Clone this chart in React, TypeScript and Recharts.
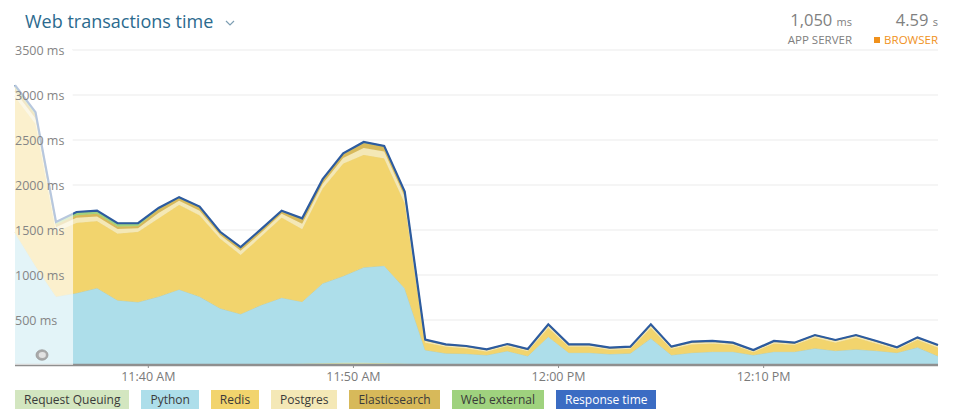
import React from 'react';
import { ComposedChart, Area, Line, XAxis, YAxis, CartesianGrid, ReferenceArea } from 'recharts';

// minutes after 11:00
const minutes = [
  33.5, 34.5, 35.5, 36.5, 37.5, 38.5, 39.5, 40.5, 41.5, 42.5, 43.5, 44.5, 45.5, 46.5, 47.5, 48.5,
  49.5, 50.5, 51.5, 52.5, 53.5, 54.5, 55.5, 56.5, 57.5, 58.5, 59.5, 60.5, 61.5, 62.5, 63.5, 64.5,
  65.5, 66.5, 67.5, 68.5, 69.5, 70.5, 71.5, 72.5, 73.5, 74.5, 75.5, 76.5, 77.5, 78.5,
];

const requestQueuing = [
  8, 8, 8, 8, 8, 8, 8, 8, 8, 8, 8, 8, 8, 8, 15, 20, 25, 25, 20, 15,
  5, 5, 5, 5, 5, 5, 5, 5, 5, 5, 5, 5, 5, 5, 5, 5, 5, 5, 5, 5, 5, 5, 5, 5, 5, 5,
];
const python = [
  1462, 1092, 752, 792, 847, 712, 692, 752, 832, 752, 622, 559, 659, 740, 689, 887, 964, 1060, 1084, 837,
  162, 125, 121, 106, 151, 95, 310, 132, 132, 117, 125, 291, 106, 132, 143, 143, 106, 143, 143, 180,
  154, 169, 154, 132, 191, 95,
];
const redis = [
  1510, 1580, 720, 780, 745, 740, 780, 870, 940, 905, 775, 658, 763, 892, 806, 1058, 1251, 1250, 1192, 948,
  83, 75, 59, 39, 54, 55, 100, 68, 68, 48, 50, 119, 69, 93, 92, 77, 34, 92, 77, 120,
  91, 131, 81, 38, 84, 95,
];
const postgres = [
  60, 60, 50, 55, 50, 50, 40, 60, 45, 50, 40, 45, 40, 40, 60, 50, 60, 75, 75, 70,
  18, 14, 15, 13, 12, 12, 22, 14, 14, 12, 13, 22, 13, 18, 16, 12, 11, 16, 12, 17,
  17, 17, 16, 10, 16, 16,
];
const elasticsearch = [
  40, 40, 30, 30, 30, 30, 25, 40, 30, 35, 25, 30, 30, 25, 50, 40, 42, 58, 54, 46,
  10, 8, 8, 8, 8, 8, 12, 8, 8, 8, 8, 12, 8, 8, 8, 8, 8, 8, 8, 8,
  8, 8, 8, 8, 8, 8,
];
const webExternal = [
  30, 30, 30, 35, 35, 35, 30, 15, 10, 10, 10, 10, 10, 10, 10, 10, 10, 10, 10, 10,
  4, 3, 3, 3, 3, 3, 3, 3, 3, 3, 3, 3, 3, 3, 3, 3, 3, 3, 3, 3,
  3, 3, 3, 3, 3, 3,
];
const responseTime = [
  3110, 2810, 1590, 1700, 1715, 1575, 1575, 1745, 1865, 1760, 1480, 1310, 1510, 1715, 1630, 2065, 2352, 2478, 2435, 1926,
  282, 230, 211, 174, 233, 178, 452, 230, 230, 193, 204, 452, 204, 259, 267, 248, 167, 267, 248, 333,
  278, 333, 267, 196, 307, 222,
];

const yTicks = [500, 1000, 1500, 2000, 2500, 3000, 3500];
const xTicks = [40, 50, 60, 70];
const xTickLabels = ['11:40 AM', '11:50 AM', '12:00 PM', '12:10 PM'];
const legendNames = ['Request Queuing', 'Python', 'Redis', 'Postgres', 'Elasticsearch', 'Web external', 'Response time'];

const FONT = "'Open Sans', sans-serif";

const COLORS: Record<string, string> = {
  'Request Queuing': '#d3e6c0',
  Python: '#addeea',
  Redis: '#f2d46d',
  Postgres: '#f4e8b6',
  Elasticsearch: '#d7b95a',
  'Web external': '#9fd27e',
  'Response time': '#3b6cc3',
};

const data = minutes.map((m, i) => ({
  t: m,
  rq: requestQueuing[i],
  python: python[i],
  redis: redis[i],
  postgres: postgres[i],
  es: elasticsearch[i],
  web: webExternal[i],
  resp: responseTime[i],
}));

const renderYTick = (props: any) => {
  const { y, payload } = props;
  return (
    <text key={`y-${payload.value}`} x={15} y={y} dy={4.5} fill="#858585" fontSize={12.5} fontFamily={FONT} textAnchor="start">
      {payload.value} ms
    </text>
  );
};

const formatX = (v: number) => xTickLabels[xTicks.indexOf(v)] ?? '';

export default function App() {
  return (
    <div style={{ position: 'absolute', left: 0, top: 0, width: 958, height: 415, background: '#fff', fontFamily: FONT }}>
      {/* header */}
      <div style={{ position: 'absolute', left: 25, top: 9, fontSize: 18, color: '#2b6a8e', whiteSpace: 'nowrap' }}>
        Web transactions time
      </div>
      <svg style={{ position: 'absolute', left: 225, top: 19 }} width={10} height={8}>
        <polyline points="1,2 5,6 9,2" fill="none" stroke="#7e9fb3" strokeWidth={1.2} />
      </svg>
      <div style={{ position: 'absolute', right: 106, top: 10, textAlign: 'right', color: '#808080', whiteSpace: 'nowrap' }}>
        <div style={{ fontSize: 16.5, lineHeight: '20px' }}>
          1,050 <span style={{ fontSize: 11 }}>ms</span>
        </div>
        <div style={{ fontSize: 11.5, lineHeight: '16px' }}>APP SERVER</div>
      </div>
      <div style={{ position: 'absolute', right: 20, top: 10, textAlign: 'right', color: '#808080', whiteSpace: 'nowrap' }}>
        <div style={{ fontSize: 16.5, lineHeight: '20px' }}>
          4.59 <span style={{ fontSize: 11 }}>s</span>
        </div>
        <div style={{ fontSize: 11.5, lineHeight: '16px', color: '#f0911c' }}>
          <span style={{ display: 'inline-block', width: 6, height: 6, background: '#f0911c', marginRight: 4, verticalAlign: 1 }} />
          BROWSER
        </div>
      </div>

      <div style={{ position: 'absolute', left: 0, top: 0 }}>
        <ComposedChart width={958} height={395} data={data} margin={{ top: 50, right: 20, bottom: 0, left: 15 }}>
          <CartesianGrid
            vertical={false}
            horizontal={(p: any) => (
              <line key={`g-${p.index}`} x1={72} y1={p.y1} x2={p.x2} y2={p.y2} stroke="#ebebeb" strokeWidth={1} />
            )}
          />
          <XAxis
            dataKey="t"
            type="number"
            domain={[33.5, 78.5]}
            ticks={xTicks}
            tickFormatter={formatX}
            height={30}
            axisLine={{ stroke: '#8f8f8f', strokeWidth: 2.5 }}
            tickLine={{ stroke: '#8f8f8f' }}
            tickSize={3}
            tickMargin={4}
            tick={{ fill: '#7a7a7a', fontSize: 12.5, fontFamily: FONT }}
          />
          <YAxis
            mirror
            width={60}
            domain={[0, 3500]}
            ticks={yTicks}
            interval={0}
            axisLine={false}
            tickLine={false}
            tick={renderYTick}
          />
          <Area type="linear" dataKey="rq" stackId="1" fill="#d9e7b8" stroke="#d6e2a8" fillOpacity={1} isAnimationActive={false} />
          <Area type="linear" dataKey="python" stackId="1" fill={COLORS.Python} stroke="#bccfae" fillOpacity={1} isAnimationActive={false} />
          <Area type="linear" dataKey="redis" stackId="1" fill={COLORS.Redis} stroke="#eed680" fillOpacity={1} isAnimationActive={false} />
          <Area type="linear" dataKey="postgres" stackId="1" fill={COLORS.Postgres} stroke="#f4e8b6" fillOpacity={1} isAnimationActive={false} />
          <Area type="linear" dataKey="es" stackId="1" fill={COLORS.Elasticsearch} stroke="#d7b95a" fillOpacity={1} isAnimationActive={false} />
          <Area type="linear" dataKey="web" stackId="1" fill={COLORS['Web external']} stroke="#9fd27e" fillOpacity={1} isAnimationActive={false} />
          <Line type="linear" dataKey="resp" stroke="#2d5b9f" strokeWidth={2.2} dot={false} isAnimationActive={false} />
          <ReferenceArea
            x1={33.5}
            x2={36.33}
            y1={0}
            y2={3500}
            fill="#ffffff"
            fillOpacity={0.66}
            stroke="none"
            zIndex={1000}
          />
        </ComposedChart>
      </div>

      {/* brush handle */}
      <svg style={{ position: 'absolute', left: 35, top: 349 }} width={14} height={12}>
        <ellipse cx={7} cy={6} rx={6} ry={5.2} fill="#a9a9a9" stroke="#999" strokeWidth={0.8} />
        <ellipse cx={7.3} cy={6} rx={3.6} ry={3} fill="#e2e2e2" />
      </svg>

      {/* legend */}
      <div style={{ position: 'absolute', left: 15, top: 390, display: 'flex', gap: 12 }}>
        {legendNames.map((name) => (
          <div
            key={name}
            style={{
              background: COLORS[name],
              color: name === 'Response time' ? '#fff' : '#3a3a3a',
              fontSize: 12,
              height: 19,
              lineHeight: '19px',
              padding: '0 9px',
              whiteSpace: 'nowrap',
            }}
          >
            {name}
          </div>
        ))}
      </div>
    </div>
  );
}
